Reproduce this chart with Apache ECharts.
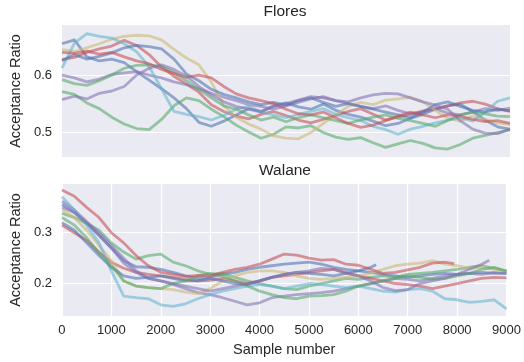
<!DOCTYPE html>
<html>
<head>
<meta charset="utf-8">
<script src="https://cdn.jsdelivr.net/npm/echarts@6/dist/echarts.min.js"></script>
<style>
  html, body { margin: 0; padding: 0; background: #ffffff; }
  #chart { width: 524px; height: 362px; }
</style>
</head>
<body>
<div id="chart"></div>
<script>
// Sample positions of the recorded acceptance ratios (every 250 samples)
const samples = [0,250,500,750,1000,1250,1500,1750,2000,2250,2500,2750,3000,3250,3500,3750,4000,4250,4500,4750,5000,5250,5500,5750,6000,6250,6500,6750,7000,7250,7500,7750,8000,8250,8500,8750,9000];

// Flores chains
const floresBlue1   = [0.655,0.662,0.632,0.625,0.628,0.622,0.606,0.591,0.576,0.560,0.541,0.517,0.510,0.519,0.530,0.541,0.536,0.546,0.551,0.544,0.540,0.549,0.538,0.531,0.526,0.519,0.511,0.515,0.524,0.531,0.540,0.546,0.549,0.536,0.521,0.509,0.505];
const floresGreen1  = [0.571,0.566,0.551,0.541,0.526,0.514,0.506,0.504,0.522,0.546,0.560,0.555,0.540,0.527,0.512,0.500,0.489,0.496,0.509,0.507,0.511,0.499,0.491,0.487,0.490,0.481,0.473,0.479,0.485,0.480,0.472,0.470,0.478,0.489,0.494,0.499,0.504];
const floresRed1    = [0.627,0.631,0.640,0.646,0.651,0.661,0.652,0.636,0.614,0.598,0.584,0.570,0.548,0.536,0.528,0.523,0.531,0.536,0.529,0.521,0.516,0.522,0.529,0.536,0.541,0.531,0.521,0.526,0.531,0.537,0.541,0.546,0.551,0.554,0.549,0.541,0.536];
const floresPurple1 = [0.600,0.595,0.588,0.593,0.601,0.604,0.606,0.600,0.595,0.588,0.583,0.576,0.568,0.561,0.555,0.548,0.545,0.540,0.546,0.552,0.558,0.562,0.555,0.550,0.545,0.541,0.546,0.538,0.532,0.535,0.541,0.533,0.530,0.535,0.541,0.538,0.542];
const floresYellow  = [0.645,0.641,0.648,0.655,0.663,0.668,0.670,0.669,0.662,0.645,0.630,0.618,0.588,0.546,0.526,0.514,0.505,0.493,0.489,0.488,0.499,0.515,0.530,0.545,0.552,0.548,0.556,0.558,0.561,0.553,0.538,0.524,0.519,0.528,0.522,0.516,0.513];
const floresCyan    = [0.612,0.656,0.673,0.668,0.665,0.655,0.641,0.615,0.576,0.536,0.531,0.527,0.521,0.529,0.540,0.545,0.535,0.530,0.525,0.531,0.536,0.541,0.531,0.525,0.520,0.510,0.504,0.496,0.505,0.510,0.516,0.521,0.525,0.519,0.535,0.554,0.560];
const floresBlue2   = [0.625,0.636,0.628,0.633,0.639,0.648,0.652,0.650,0.646,0.628,0.602,0.590,0.575,0.566,0.560,0.553,0.548,0.552,0.547,0.555,0.560,0.552,0.545,0.550,0.545,0.540,0.535,0.530,0.525,0.535,0.548,0.553,0.545,0.538,0.535,0.540,0.537];
const floresGreen2  = [0.592,0.585,0.582,0.590,0.600,0.612,0.617,0.618,0.615,0.605,0.590,0.575,0.560,0.546,0.540,0.530,0.521,0.526,0.518,0.525,0.530,0.525,0.520,0.515,0.521,0.526,0.530,0.524,0.520,0.515,0.510,0.520,0.530,0.535,0.532,0.528,0.527];
const floresRed2    = [0.640,0.638,0.642,0.637,0.640,0.632,0.625,0.620,0.610,0.603,0.596,0.600,0.595,0.580,0.567,0.560,0.555,0.550,0.540,0.532,0.530,0.535,0.525,0.515,0.508,0.512,0.520,0.528,0.535,0.530,0.525,0.530,0.528,0.522,0.518,0.520,0.515];
const floresPurple2 = [0.557,0.563,0.558,0.568,0.572,0.580,0.600,0.612,0.618,0.610,0.598,0.580,0.565,0.553,0.545,0.540,0.535,0.545,0.550,0.556,0.562,0.560,0.555,0.553,0.560,0.565,0.568,0.567,0.560,0.553,0.547,0.540,0.520,0.505,0.498,0.497,0.505];

// Walane chains (some chains stop before 9000 samples)
const walaneBlue1   = [0.356,0.340,0.318,0.295,0.270,0.245,0.233,0.232,0.228,0.222,0.215,0.210,0.212,0.218,0.222,0.228,0.232,0.235,0.238,0.240,0.242,0.238,0.232,0.228,0.225,0.222,0.218,0.215,0.212,0.215,0.218,0.220,0.218,0.220,0.222,0.220,0.220];
const walaneGreen1  = [0.338,0.330,0.318,0.305,0.280,0.262,0.248,0.255,0.258,0.242,0.235,0.225,0.218,0.220,0.212,0.205,0.200,0.195,0.190,0.188,0.195,0.200,0.205,0.210,0.208,0.212,0.215,0.212,0.218,0.220,0.222,0.225,0.228,0.232,0.235,0.230,0.225];
const walaneRed1    = [0.315,0.300,0.285,0.262,0.242,0.230,0.222,0.218,0.215,0.212,0.208,0.205,0.206,0.210,0.205,0.200,0.205,0.212,0.215,0.218,0.222,0.225,0.228,0.222,0.215,0.210,0.205,0.200,0.198,0.195,0.190,0.195,0.200,0.205,0.210,0.212,0.211];
const walanePurple1 = [0.362,0.345,0.322,0.300,0.275,0.250,0.225,0.210,0.205,0.198,0.190,0.182,0.178,0.172,0.165,0.158,0.162,0.172,0.175,0.178,0.180,0.182,0.185,0.190,0.195,0.200,0.205,0.210,0.208,0.205,0.210,0.215,0.218,0.220,0.218,0.222,0.220];
const walaneYellow  = [0.345,0.330,0.305,0.275,0.245,0.205,0.195,0.192,0.190,0.188,0.183,0.180,0.190,0.205,0.215,0.222,0.225,0.225,0.222,0.215,0.210,0.208,0.210,0.212,0.215,0.220,0.228,0.235,0.238,0.240,0.245,0.238,0.235,0.230,0.232,0.228,0.225];
const walaneCyan    = [0.371,0.345,0.315,0.280,0.225,0.175,0.172,0.170,0.158,0.155,0.160,0.170,0.178,0.185,0.190,0.195,0.198,0.195,0.190,0.195,0.200,0.198,0.195,0.192,0.195,0.190,0.185,0.183,0.188,0.190,0.185,0.170,0.168,0.163,0.165,0.168,0.150];
const walaneBlue2   = [0.320,0.305,0.280,0.255,0.232,0.215,0.210,0.212,0.215,0.210,0.205,0.205,0.210,0.205,0.200,0.198,0.205,0.212,0.218,0.222,0.220,0.218,0.215,0.220,0.225,0.232,0.237];
const walaneGreen2  = [0.330,0.315,0.290,0.260,0.235,0.205,0.195,0.192,0.190,0.200,0.205,0.215,0.220,0.215,0.205,0.195,0.185,0.178,0.172,0.170,0.175,0.176,0.178,0.185,0.195,0.200,0.205,0.210,0.215,0.212,0.208,0.210,0.215,0.220,0.228,0.232,0.224];
const walaneRed2    = [0.384,0.372,0.350,0.330,0.300,0.280,0.255,0.235,0.222,0.218,0.214,0.216,0.215,0.222,0.228,0.232,0.238,0.248,0.258,0.256,0.250,0.246,0.247,0.238,0.236,0.228,0.220,0.222,0.227,0.232,0.240,0.242,0.239];
const walanePurple2 = [0.350,0.340,0.320,0.295,0.270,0.240,0.222,0.210,0.205,0.200,0.195,0.190,0.185,0.190,0.195,0.200,0.205,0.212,0.218,0.222,0.225,0.230,0.228,0.220,0.215,0.205,0.192,0.186,0.188,0.200,0.205,0.210,0.218,0.228,0.238,0.246];

// Sample at which each chain's last value was recorded
const floresEnd = [9000,9000,9000,9000,9000,9000,9000,9000,9000,9000];
const walaneEnd = [9000,9000,9000,9000,9000,9000,6360,9000,7940,8650];

// Axis ticks
const xTicks = [0,1000,2000,3000,4000,5000,6000,7000,8000,9000];
const floresYTicks = [0.5,0.6];
const walaneYTicks = [0.2,0.3];

const floresChains = [floresBlue1, floresGreen1, floresRed1, floresPurple1, floresYellow, floresCyan, floresBlue2, floresGreen2, floresRed2, floresPurple2];
const walaneChains = [walaneBlue1, walaneGreen1, walaneRed1, walanePurple1, walaneYellow, walaneCyan, walaneBlue2, walaneGreen2, walaneRed2, walanePurple2];

const palette = ['#4C72B0','#55A868','#C44E52','#8172B2','#CCB974','#64B5CD'];
const FONT = '"Liberation Sans", Arial, sans-serif';
const TEXT = '#262626';
const BG = '#EAEAF2';

function toPoints(values, endSample) {
  return values.map((v, i) => [i === values.length - 1 ? endSample : samples[i], v]);
}

function chainSeries(chains, ends, axisIndex) {
  return chains.map((vals, k) => ({
    type: 'line',
    xAxisIndex: axisIndex,
    yAxisIndex: axisIndex,
    data: toPoints(vals, ends[k]),
    showSymbol: false,
    silent: true,
    lineStyle: { color: palette[k % palette.length], width: 2.8, opacity: 0.58, join: 'round' },
    itemStyle: { color: palette[k % palette.length] }
  }));
}

function yAxis(gridIndex, min, max, ticks) {
  return {
    gridIndex, type: 'value', min, max,
    axisLine: { show: false },
    axisTick: { show: false, customValues: ticks },
    axisLabel: { customValues: ticks, formatter: v => v.toFixed(1), fontSize: 13, color: TEXT, fontFamily: FONT, margin: 10 },
    splitLine: { show: true, lineStyle: { color: '#ffffff', width: 1.2 } },
    name: 'Acceptance Ratio', nameLocation: 'middle', nameGap: 29,
    nameTextStyle: { fontSize: 14.5, color: TEXT, fontFamily: FONT }
  };
}

const chart = echarts.init(document.getElementById('chart'), null, { renderer: 'canvas' });
chart.setOption({
  animation: false,
  backgroundColor: '#ffffff',
  grid: [
    { left: 60, top: 25, width: 450, height: 132, show: true, backgroundColor: BG, borderWidth: 0 },
    { left: 60, top: 184, width: 450, height: 132, show: true, backgroundColor: BG, borderWidth: 0 }
  ],
  xAxis: [
    { gridIndex: 0, type: 'value', min: 0, max: 9000, interval: 1000,
      axisLine: { show: false }, axisTick: { show: false }, axisLabel: { show: false }, splitLine: { show: false } },
    { gridIndex: 1, type: 'value', min: 0, max: 9000, interval: 1000,
      axisLine: { show: false }, axisTick: { show: false },
      axisLabel: { fontSize: 13, color: TEXT, fontFamily: FONT, margin: 8, customValues: xTicks, formatter: v => String(v) },
      splitLine: { show: true, lineStyle: { color: '#ffffff', width: 1.2 } },
      name: 'Sample number', nameLocation: 'middle', nameGap: 26,
      nameTextStyle: { fontSize: 14.5, color: TEXT, fontFamily: FONT } }
  ],
  yAxis: [
    yAxis(0, 0.456, 0.688, floresYTicks),
    yAxis(1, 0.136, 0.396, walaneYTicks)
  ],
  graphic: [
    { type: 'text', x: 285, y: 12, style: { text: 'Flores', textAlign: 'center', textVerticalAlign: 'middle', fontSize: 15.5, fill: TEXT, fontFamily: FONT } },
    { type: 'text', x: 285, y: 171, style: { text: 'Walane', textAlign: 'center', textVerticalAlign: 'middle', fontSize: 15.5, fill: TEXT, fontFamily: FONT } }
  ],
  series: chainSeries(floresChains, floresEnd, 0).concat(chainSeries(walaneChains, walaneEnd, 1))
});
</script>
</body>
</html>
